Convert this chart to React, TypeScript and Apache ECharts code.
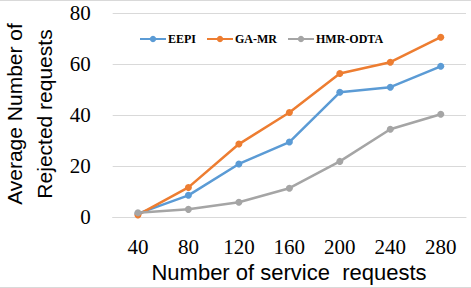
import React, { useEffect, useRef } from "react";
import * as echarts from "echarts";

const categories = ["40", "80", "120", "160", "200", "240", "280"];
const eepi = [1.3, 8.5, 20.8, 29.4, 48.9, 50.9, 59.1];
const gaMr = [0.8, 11.6, 28.6, 41.0, 56.3, 60.7, 70.5];
const hmrOdta = [1.7, 3.0, 5.8, 11.3, 21.8, 34.4, 40.3];
const yTicks = { min: 0, max: 80, interval: 20 };

const SERIF = "Liberation Serif";
const SANS = "Liberation Sans";

export default function App() {
  const ref = useRef<HTMLDivElement>(null);
  useEffect(() => {
    if (!ref.current) return;
    const chart = echarts.init(ref.current, null, { renderer: "svg" });
    const mk = (name: string, data: number[], color: string) => ({
      name,
      type: "line",
      data,
      symbol: "circle",
      symbolSize: 7,
      lineStyle: { width: 2.5, color },
      itemStyle: { color },
    });
    chart.setOption({
      animation: false,
      backgroundColor: "#fff",
      grid: { left: 112.7, right: 5, top: 13, bottom: 71, containLabel: false },
      legend: {
        left: 134,
        top: 28,
        itemWidth: 26,
        itemHeight: 8,
        itemGap: 10,
        textStyle: { fontFamily: SERIF, fontWeight: "bold", fontSize: 12, color: "#000", padding: [0, 0, 0, -3] },
        data: ["EEPI", "GA-MR", "HMR-ODTA"],
      },
      xAxis: {
        type: "category",
        data: categories,
        boundaryGap: true,
        axisLine: { show: true, lineStyle: { color: "#d9d9d9", width: 1 } },
        axisTick: { show: false },
        axisLabel: { fontFamily: SERIF, fontSize: 21, color: "#000", margin: 19 },
      },
      yAxis: {
        type: "value",
        ...yTicks,
        axisLine: { show: false },
        axisTick: { show: false },
        splitLine: { lineStyle: { color: "#d9d9d9", width: 1 } },
        axisLabel: { fontFamily: SERIF, fontSize: 21, color: "#000", margin: 22 },
      },
      graphic: [
        { type: "line", shape: { x1: 0, y1: 0.5, x2: 471, y2: 0.5 }, style: { stroke: "#d9d9d9", lineWidth: 1 } },
        { type: "line", shape: { x1: 0, y1: 287.5, x2: 471, y2: 287.5 }, style: { stroke: "#d9d9d9", lineWidth: 1 } },
        {
          type: "text",
          x: 29,
          y: 114,
          rotation: Math.PI / 2,
          style: {
            text: "Average Number of\nRejected requests",
            fontFamily: SANS,
            fontSize: 21,
            lineHeight: 30,
            fill: "#000",
            textAlign: "center",
            textVerticalAlign: "middle",
          },
        },
        {
          type: "text",
          x: 289,
          y: 272,
          style: {
            text: "Number of service  requests",
            fontFamily: SANS,
            fontSize: 22,
            fill: "#000",
            textAlign: "center",
            textVerticalAlign: "middle",
          },
        },
      ],
      series: [
        mk("EEPI", eepi, "#5b9bd5"),
        mk("GA-MR", gaMr, "#ed7d31"),
        mk("HMR-ODTA", hmrOdta, "#a5a5a5"),
      ],
    });
    return () => chart.dispose();
  }, []);
  return <div ref={ref} style={{ position: "fixed", left: 0, top: 0, width: 471, height: 288 }} />;
}
